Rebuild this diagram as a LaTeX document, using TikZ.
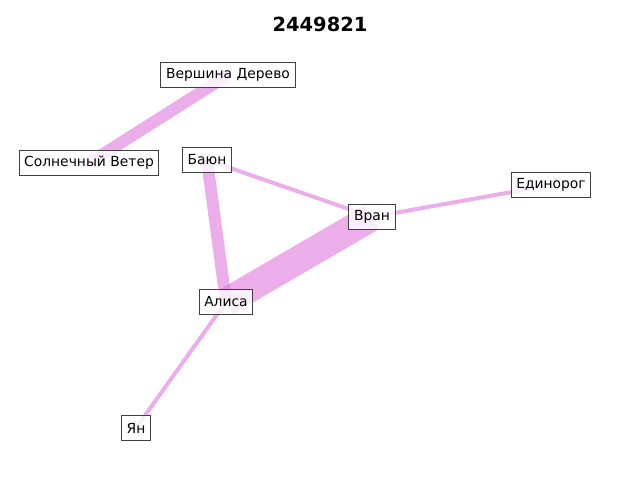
\documentclass[tikz,border=0pt]{standalone}
\usepackage{fontspec}
\setmainfont{DejaVu Sans}
\begin{document}
\begin{tikzpicture}[x=0.75pt,y=-0.75pt,
  lbl/.style={draw=black!75,line width=0.75pt,fill=white,fill opacity=0.8,text opacity=1,
    font=\fontsize{10.4}{12}\selectfont,inner xsep=3.8pt,inner ysep=0pt,minimum height=18.5pt},
  edgecol/.style={draw={rgb,255:red,222;green,120;blue,222}}]
\useasboundingbox (0,0) rectangle (640,480);
\node[font=\bfseries\fontsize{14.6}{16}\selectfont] (title) at (320,24) {2449821};
\coordinate (cV) at (228,75);
\coordinate (cS) at (89,163);
\coordinate (cB) at (207,160);
\coordinate (cR) at (372,217);
\coordinate (cE) at (551,185);
\coordinate (cA) at (226,302);
\coordinate (cY) at (136,428);
\begin{scope}[edgecol,draw opacity=0.6,line cap=butt]
\draw[line width=9pt] (cV) -- (cS);
\draw[line width=9pt] (cB) -- (cA);
\draw[line width=21pt] (cA) -- (cR);
\draw[line width=3pt] (cB) -- (cR);
\draw[line width=3pt] (cR) -- (cE);
\draw[line width=3pt] (cA) -- (cY);
\end{scope}
\node[lbl] (V) at (cV) {Вершина Дерево};
\node[lbl] (S) at (cS) {Солнечный Ветер};
\node[lbl] (B) at (cB) {Баюн};
\node[lbl] (R) at (cR) {Вран};
\node[lbl] (E) at (cE) {Единорог};
\node[lbl] (A) at (cA) {Алиса};
\node[lbl] (Y) at (cY) {Ян};
\end{tikzpicture}
\end{document}
